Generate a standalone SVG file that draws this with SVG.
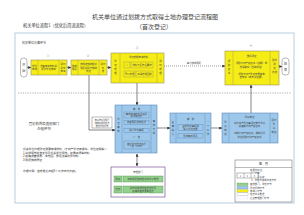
<svg xmlns="http://www.w3.org/2000/svg" width="304" height="215" viewBox="0 0 304 215">
<style>
text{font-family:"Noto Sans CJK SC","Liberation Sans",sans-serif;fill:#333}
.t{font-size:6px;fill:#444}
.s{font-size:4.2px}
.x{font-size:2.4px;fill:#444}
.n{font-size:3px;fill:#777}
.y{fill:#f6ec16;stroke:#9a9560;stroke-width:0.6}
.yi{fill:none;stroke:#9a9560;stroke-width:0.4}
.b{fill:#9dc8eb;stroke:#5a88b8;stroke-width:0.6}
.bi{fill:none;stroke:#5a88b8;stroke-width:0.4}
.g{fill:#92d18b;stroke:#4f8f4a;stroke-width:0.4}
.pill{fill:#fff;stroke:#888;stroke-width:0.6}
.ln{fill:none;stroke:#333;stroke-width:0.6}
.dt{fill:none;stroke:#555;stroke-width:0.6;stroke-dasharray:1 1}
</style>
<defs>
<marker id="ah" viewBox="0 0 6 6" refX="5.5" refY="3" markerWidth="5" markerHeight="5" orient="auto-start-reverse"><path d="M0,0L6,3L0,6z" fill="#333"/></marker>
</defs>
<rect width="304" height="215" fill="#fff"/>
<g id="title">
<text class="t" x="155" y="19" text-anchor="middle">机关单位通过划拨方式取得土地办理登记流程图</text>
<text class="t" x="154" y="29" text-anchor="middle">（首次登记）</text>
<text class="s" x="23" y="27">机关单位流程1（优化后简流流程）</text>
</g>
<rect x="15" y="33" width="279" height="170" fill="none" stroke="#a9c1d9" stroke-width="0.8"/>
<line x1="18" y1="93" x2="291" y2="93" stroke="#888" stroke-width="0.7" stroke-dasharray="1.2 1.2"/>
<text class="x" x="22" y="44" style="font-size:3px">机关单位办事环节</text>
<text class="s" x="44" y="125" text-anchor="middle" style="font-size:3.4px">登记机构及其他部门</text>
<text class="s" x="44" y="130" text-anchor="middle" style="font-size:3.4px">办理环节</text>
<g id="notes" class="x">
<text x="23" y="150" style="font-size:2.8px">机关单位办理登记所需申请材料（不动产登记申请书、单位证明等）：</text>
<text x="23" y="153.5" style="font-size:2.8px">1.划拨用地批准文件及机关单位用地、权属来源等材料</text>
<text x="23" y="157" style="font-size:2.8px">2.权籍调查成果、宗地图、界址点等附件材料</text>
<text x="23" y="160.5" style="font-size:2.8px">3.税费缴纳凭证</text>
<text x="23" y="172" style="font-size:2.8px">办理时限：自受理之日起5个工作日内办结。</text>
</g>
<g id="connectors">
<line class="ln" x1="27" y1="67.5" x2="31" y2="67.5" marker-end="url(#ah)"/>
<line class="ln" x1="67" y1="67.5" x2="71" y2="67.5" marker-end="url(#ah)"/>
<line class="ln" x1="107" y1="67.5" x2="111" y2="67.5" marker-end="url(#ah)"/>
<line class="dt" x1="164" y1="66" x2="225" y2="66" marker-end="url(#ah)"/>
<text class="x" x="194" y="64" text-anchor="middle">等待缴纳税费</text>
<line class="ln" x1="279" y1="66.5" x2="282" y2="66.5" marker-end="url(#ah)"/>
<line class="ln" x1="137" y1="83" x2="137" y2="105" marker-end="url(#ah)"/>
<polyline class="ln" points="89,75 89,130 115,130" marker-end="url(#ah)"/>
<rect x="92" y="117" width="20" height="11" fill="#fff" stroke="#555" stroke-width="0.4"/>
<text class="x" x="102" y="120.5" text-anchor="middle" style="font-size:2.1px">申请材料及税费</text>
<text class="x" x="102" y="123.5" text-anchor="middle" style="font-size:2.1px">缴纳等相关信息</text>
<text class="x" x="102" y="126.5" text-anchor="middle" style="font-size:2.1px">推送登记机构</text>
<line class="ln" x1="157" y1="128" x2="170" y2="128" marker-end="url(#ah)"/>
<line class="ln" x1="211" y1="128" x2="222" y2="128" marker-end="url(#ah)"/>
<line class="ln" x1="251" y1="113" x2="251" y2="85" marker-end="url(#ah)"/>
<line class="ln" x1="137" y1="154" x2="137" y2="166" marker-start="url(#ah)" marker-end="url(#ah)"/>
</g>
<g id="start">
<rect class="pill" x="20.5" y="58" width="6.5" height="19" rx="3"/>
<text class="x" x="23.75" y="66" text-anchor="middle" style="font-size:3px">开</text>
<text class="x" x="23.75" y="72" text-anchor="middle" style="font-size:3px">始</text>
</g>
<g id="step1">
<text class="n" x="48" y="57" text-anchor="middle">①</text>
<rect class="y" x="31" y="60" width="36" height="15"/>
<line class="yi" x1="38" y1="60" x2="38" y2="75"/><line class="yi" x1="59" y1="60" x2="59" y2="75"/>
<text class="x" x="34.5" y="66.5" text-anchor="middle">单位</text><text class="x" x="34.5" y="70" text-anchor="middle">申请</text>
<text class="x" x="48.5" y="66.5" text-anchor="middle">准备申请材料并</text><text class="x" x="48.5" y="70" text-anchor="middle">提交登记申请</text>
<text class="x" x="63" y="65" text-anchor="middle">即时</text><text class="x" x="63" y="68.5" text-anchor="middle">提交</text><text class="x" x="63" y="72" text-anchor="middle">申请</text>
</g>
<g id="step2">
<text class="n" x="88" y="57" text-anchor="middle">②</text>
<rect class="y" x="71" y="60" width="36" height="15"/>
<line class="yi" x1="78" y1="60" x2="78" y2="75"/><line class="yi" x1="99" y1="60" x2="99" y2="75"/>
<text class="x" x="74.5" y="66.5" text-anchor="middle">缴纳</text><text class="x" x="74.5" y="70" text-anchor="middle">税费</text>
<text class="x" x="88.5" y="65" text-anchor="middle">按规定缴纳相关</text><text class="x" x="88.5" y="68.5" text-anchor="middle">税费并提交缴纳</text><text class="x" x="88.5" y="72" text-anchor="middle">凭证</text>
<text class="x" x="103" y="65" text-anchor="middle">即时</text><text class="x" x="103" y="68.5" text-anchor="middle">办</text><text class="x" x="103" y="72" text-anchor="middle">结</text>
</g>
<g id="step3">
<text class="n" x="137" y="49" text-anchor="middle">③</text>
<rect class="y" x="111" y="53" width="53" height="30"/>
<line class="yi" x1="120" y1="53" x2="120" y2="83"/><line class="yi" x1="157" y1="53" x2="157" y2="83"/>
<text class="x" x="115.5" y="62" text-anchor="middle">登</text><text class="x" x="115.5" y="66" text-anchor="middle">记</text><text class="x" x="115.5" y="70" text-anchor="middle">受</text><text class="x" x="115.5" y="74" text-anchor="middle">理</text>
<text class="x" x="138.5" y="58" text-anchor="middle">登记受理申请材料</text>
<rect class="yi" x="124" y="62" width="6" height="6"/><text class="x" x="127" y="65.8" text-anchor="middle">①</text>
<rect class="yi" x="131" y="62" width="22" height="6"/><text class="x" x="142" y="65.8" text-anchor="middle">材料齐全符合要求</text>
<rect class="yi" x="124" y="71" width="11" height="6"/><text class="x" x="129.5" y="74.8" text-anchor="middle">予以受理</text>
<rect class="yi" x="136" y="71" width="17" height="6"/><text class="x" x="144.5" y="74.8" text-anchor="middle">出具受理回执</text>
<text class="x" x="160.5" y="62" text-anchor="middle">即</text><text class="x" x="160.5" y="66" text-anchor="middle">时</text><text class="x" x="160.5" y="70" text-anchor="middle">受</text><text class="x" x="160.5" y="74" text-anchor="middle">理</text>
</g>
<g id="step4">
<text class="n" x="251" y="47" text-anchor="middle">④</text>
<rect class="y" x="225" y="51" width="54" height="34"/>
<line class="yi" x1="233" y1="51" x2="233" y2="85"/><line class="yi" x1="270" y1="51" x2="270" y2="85"/>
<text class="x" x="229" y="62" text-anchor="middle">领</text><text class="x" x="229" y="66" text-anchor="middle">取</text><text class="x" x="229" y="70" text-anchor="middle">证</text><text class="x" x="229" y="74" text-anchor="middle">书</text>
<text class="x" x="251.5" y="57" text-anchor="middle">缴费领证</text>
<text class="x" x="251.5" y="64" text-anchor="middle">领取不动产权证书（证明）或</text><text class="x" x="251.5" y="67.5" text-anchor="middle">选择邮寄（自助领证）</text>
<text class="x" x="251.5" y="74.5" text-anchor="middle">领取不动产登记结果查询</text><text class="x" x="251.5" y="78" text-anchor="middle">告知书（或电子证照）</text>
<text class="x" x="274.5" y="61" text-anchor="middle">即时</text><text class="x" x="274.5" y="65" text-anchor="middle">领</text><text class="x" x="274.5" y="69" text-anchor="middle">证</text><text class="x" x="274.5" y="73" text-anchor="middle">办结</text>
</g>
<g id="end">
<rect class="pill" x="282" y="58" width="7" height="17" rx="3"/>
<text class="x" x="285.5" y="65" text-anchor="middle" style="font-size:3px">结</text>
<text class="x" x="285.5" y="71" text-anchor="middle" style="font-size:3px">束</text>
</g>
<g id="step5">
<rect class="b" x="115" y="105" width="42" height="48"/>
<line class="bi" x1="122" y1="105" x2="122" y2="153"/><line class="bi" x1="151" y1="105" x2="151" y2="153"/>
<text class="x" x="118.5" y="120" text-anchor="middle">登</text><text class="x" x="118.5" y="124" text-anchor="middle">记</text><text class="x" x="118.5" y="128" text-anchor="middle">审</text><text class="x" x="118.5" y="132" text-anchor="middle">核</text>
<text class="x" x="136.5" y="110" text-anchor="middle">审　核</text>
<rect class="bi" x="124" y="112" width="25" height="6"/><text class="x" x="136.5" y="114.6" text-anchor="middle">审核申请材料及权属</text><text class="x" x="136.5" y="117.3" text-anchor="middle">来源等信息</text>
<rect class="bi" x="124" y="120.5" width="25" height="4"/><text class="x" x="136.5" y="123.4" text-anchor="middle">核查税费缴纳信息</text>
<rect class="bi" x="124" y="128.5" width="25" height="4"/><text class="x" x="136.5" y="131.4" text-anchor="middle">确认登记事项</text>
<text class="x" x="136.5" y="138" text-anchor="middle">公　告</text>
<rect class="bi" x="124" y="141" width="25" height="8"/><text class="x" x="136.5" y="144.5" text-anchor="middle">首次登记依法进行</text><text class="x" x="136.5" y="147.3" text-anchor="middle">公告（15日）</text>
<text class="x" x="154" y="122" text-anchor="middle">审</text><text class="x" x="154" y="126" text-anchor="middle">核</text><text class="x" x="154" y="130" text-anchor="middle">时</text><text class="x" x="154" y="134" text-anchor="middle">限</text>
</g>
<g id="step6">
<rect class="b" x="170" y="113" width="41" height="30"/>
<line class="bi" x1="176" y1="113" x2="176" y2="143"/><line class="bi" x1="205" y1="113" x2="205" y2="143"/>
<text class="x" x="173" y="123" text-anchor="middle">复</text><text class="x" x="173" y="127" text-anchor="middle">审</text><text class="x" x="173" y="131" text-anchor="middle">确</text><text class="x" x="173" y="135" text-anchor="middle">认</text>
<text class="x" x="190.5" y="120" text-anchor="middle">审　核</text>
<rect class="bi" x="178" y="124.5" width="25" height="6"/><text class="x" x="190.5" y="127" text-anchor="middle">复核登记事项并</text><text class="x" x="190.5" y="129.7" text-anchor="middle">确认登记结果</text>
<rect class="bi" x="178" y="133.5" width="25" height="4.5"/><text class="x" x="190.5" y="136.6" text-anchor="middle">形成审核意见</text>
<text class="x" x="208" y="123" text-anchor="middle">一</text><text class="x" x="208" y="127" text-anchor="middle">个</text><text class="x" x="208" y="131" text-anchor="middle">工</text><text class="x" x="208" y="135" text-anchor="middle">作</text>
</g>
<g id="step7">
<rect class="b" x="222" y="113" width="56" height="30"/>
<line class="bi" x1="229" y1="113" x2="229" y2="143"/><line class="bi" x1="270" y1="113" x2="270" y2="143"/>
<text class="x" x="225.5" y="123" text-anchor="middle">登</text><text class="x" x="225.5" y="127" text-anchor="middle">簿</text><text class="x" x="225.5" y="131" text-anchor="middle">制</text><text class="x" x="225.5" y="135" text-anchor="middle">证</text>
<text class="x" x="249.5" y="118" text-anchor="middle">登簿制证</text>
<text class="x" x="249.5" y="123.5" text-anchor="middle">将不动产登记事项记载于登簿</text><text class="x" x="249.5" y="127" text-anchor="middle">并缮制不动产权证书</text>
<text class="x" x="249.5" y="134" text-anchor="middle">印制不动产权证书，通知机关</text><text class="x" x="249.5" y="137.5" text-anchor="middle">单位领取不动产权证书</text>
<text class="x" x="274" y="121" text-anchor="middle">即时</text><text class="x" x="274" y="125" text-anchor="middle">登</text><text class="x" x="274" y="129" text-anchor="middle">簿</text><text class="x" x="274" y="133" text-anchor="middle">制证</text>
</g>
<g id="step8">
<rect x="111" y="167" width="54" height="30" fill="#fff" stroke="#8c6aa6" stroke-width="0.8"/>
<text class="x" x="138" y="172.5" text-anchor="middle">管理部门</text>
<rect class="g" x="114" y="176" width="8" height="6"/><text class="x" x="118" y="179.8" text-anchor="middle">税务</text>
<rect class="g" x="123" y="176" width="40" height="6"/><text class="x" x="143" y="179.8" text-anchor="middle">核实税费缴纳信息并共享推送</text>
<rect class="g" x="114" y="186" width="8" height="7"/><text class="x" x="118" y="190.3" text-anchor="middle">自然</text>
<rect class="g" x="123" y="186" width="40" height="7"/><text class="x" x="143" y="188.8" text-anchor="middle">提供划拨用地批准文件及</text><text class="x" x="143" y="191.6" text-anchor="middle">权籍调查成果等信息</text>
</g>
<g id="legend">
<rect x="235" y="160" width="57" height="42" fill="#fff" stroke="#777" stroke-width="0.6"/>
<text class="x" x="263.5" y="165" text-anchor="middle" style="font-size:3px">图　例</text>
<line x1="235" y1="167.5" x2="292" y2="167.5" stroke="#777" stroke-width="0.5"/>
<text class="x" x="250" y="171">在框内标注：</text>
<text class="x" x="251" y="174.3">1、步骤</text>
<text class="x" x="251" y="177.6">2、事项名称</text>
<text class="x" x="251" y="180.9">3、办理时限或办结方式</text>
<rect x="237" y="173" width="21" height="5" fill="#fff" stroke="#555" stroke-width="0.4"/>
<line x1="244" y1="173" x2="244" y2="178" stroke="#555" stroke-width="0.4"/><line x1="251" y1="173" x2="251" y2="178" stroke="#555" stroke-width="0.4"/>
<text class="x" x="240.5" y="176.5" text-anchor="middle">1</text><text class="x" x="247.5" y="176.5" text-anchor="middle">2</text><text class="x" x="254.5" y="176.5" text-anchor="middle">3</text>
<rect x="237" y="183" width="11" height="2.6" fill="#92d18b" stroke="#4f8f4a" stroke-width="0.3"/><text class="x" x="250" y="185.3">其他部门、单位环节</text>
<rect x="237" y="186.3" width="11" height="2.6" fill="#9dc8eb" stroke="#5a88b8" stroke-width="0.3"/><text class="x" x="250" y="188.6">登记机构环节</text>
<rect x="237" y="189.6" width="11" height="2.6" fill="#f6ec16" stroke="#9a9560" stroke-width="0.3"/><text class="x" x="250" y="191.9">申请人环节</text>
<rect x="237" y="192.9" width="11" height="2.6" fill="#fff" stroke="#999" stroke-width="0.3"/><text class="x" x="250" y="195.2">信息共享推送</text>
<rect x="237" y="196.2" width="11" height="2.6" fill="#fff" stroke="#c9a8d8" stroke-width="0.3" stroke-dasharray="0.6 0.4"/><text class="x" x="250" y="198.5">后台管理部门环节</text>
</g>
</svg>
